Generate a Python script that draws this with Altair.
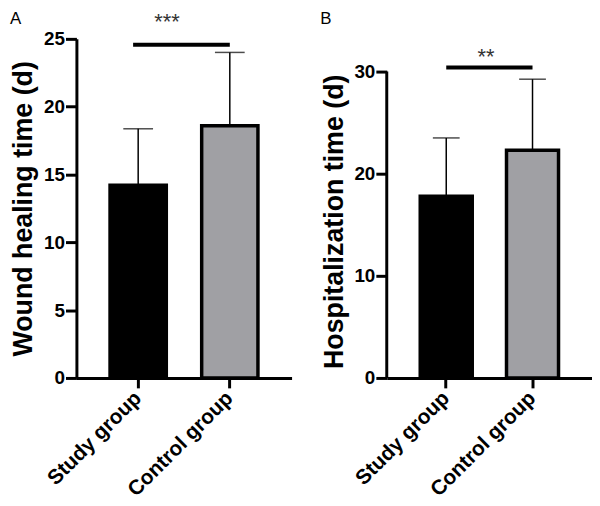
import altair as alt
import pandas as pd

groups = ["Study group", "Control group"]
bar_fills = ["#000000", "#a0a0a4"]

wound_mean = [14.2, 18.6]
wound_sd = [4.17, 5.4]
hosp_mean = [17.8, 22.3]
hosp_sd = [5.7, 6.95]

wound_ticks = [0, 5, 10, 15, 20, 25]
hosp_ticks = [0, 10, 20, 30]

wound_sig_text = ["***"]
hosp_sig_text = ["**"]
wound_sig_y = [24.56]
hosp_sig_y = [30.4]
wound_star_y = [25.7]
hosp_star_y = [30.7]

FONT = "Liberation Sans"


def panel(letter, title, mean, sd, ticks, ymax, width, pad_inner, pad_outer,
          cap, sig_text, sig_y, star_y, star_dx, sig_band_start, title_y,
          axis_rule):
    df = pd.DataFrame({
        "group": groups,
        "mean": mean,
        "upper": [m + s for m, s in zip(mean, sd)],
        "fill": bar_fills,
    })
    xscale = alt.Scale(domain=groups, paddingInner=pad_inner, paddingOuter=pad_outer)
    yscale = alt.Scale(domain=[0, ymax], nice=False, zero=True)
    xaxis = alt.Axis(title=None, labelAngle=-45, labelFont=FONT, labelFontSize=21,
                     labelFontWeight="bold", labelColor="black", labelAlign="right",
                     labelBaseline="middle", labelPadding=7, tickSize=10, tickWidth=3,
                     tickColor="black", domainWidth=3, domainColor="black", grid=False)
    ykw = dict(title=title, values=ticks, titleFont=FONT, titleFontSize=27,
               titleFontWeight="bold", titleColor="black", titlePadding=6,
               labelFont=FONT, labelFontSize=19, labelFontWeight="bold",
               labelColor="black", labelPadding=1, tickSize=11, tickWidth=3,
               tickColor="black", domain=not axis_rule, domainWidth=3,
               domainColor="black", grid=False)
    if title_y is not None:
        ykw["titleY"] = title_y
    yaxis = alt.Axis(**ykw)
    x = alt.X("group:N", scale=xscale, axis=xaxis, sort=groups)
    y = alt.Y("mean:Q", scale=yscale, axis=yaxis)
    base = alt.Chart(df)
    bars = base.mark_bar(stroke="black", strokeWidth=3.5).encode(
        x=x, y=y, fill=alt.Fill("fill:N", scale=None))
    err = base.mark_rule(color="black", strokeWidth=1.5).encode(
        x=x, y=y, y2="upper:Q")
    caps = base.mark_tick(color="black", thickness=1.5, size=cap).encode(
        x=x, y=alt.Y("upper:Q", scale=yscale, axis=yaxis))

    sig_df = pd.DataFrame({"g1": [groups[0]], "g2": [groups[1]], "y": sig_y,
                           "sy": star_y, "t": sig_text})
    sig = alt.Chart(sig_df).mark_rule(color="black", strokeWidth=4).encode(
        x=alt.X("g1:N", scale=xscale, axis=xaxis, bandPosition=sig_band_start),
        x2=alt.X2("g2:N"),
        y=alt.Y("y:Q", scale=yscale, axis=yaxis))
    stars = alt.Chart(sig_df).mark_text(
        font=FONT, fontSize=22, color="#333333", align="center",
        baseline="alphabetic", dx=star_dx).encode(
        x=alt.X("g1:N", scale=xscale, axis=xaxis),
        y=alt.Y("sy:Q", scale=yscale, axis=yaxis),
        text="t:N")
    lab = alt.Chart(pd.DataFrame({"t": [letter]})).mark_text(
        font=FONT, fontSize=17, color="black", align="left",
        baseline="top").encode(
        x=alt.value(-67), y=alt.value(-28), text="t:N")
    layers = [bars, err, caps, sig, stars, lab]
    if axis_rule:
        rdf = pd.DataFrame({"lo": [ticks[0]], "hi": [ticks[-1]]})
        rule = alt.Chart(rdf).mark_rule(color="black", strokeWidth=3).encode(
            x=alt.value(0),
            y=alt.Y("lo:Q", scale=yscale, axis=yaxis),
            y2="hi:Q")
        layers.append(rule)
    return alt.layer(*layers).properties(
        width=width, height=342,
        view=alt.ViewBackground(stroke="transparent", strokeWidth=0))


pA = panel("A", "Wound healing time (d)", wound_mean, wound_sd, wound_ticks, 25,
           217, 0.386, 0.367, 30, wound_sig_text, wound_sig_y, wound_star_y, 29,
           0.41, None, False)
pB = panel("B", "Hospitalization time (d)", hosp_mean, hosp_sd, hosp_ticks, 33.2,
           207, 0.397, 0.388, 27, hosp_sig_text, hosp_sig_y, hosp_star_y, 40,
           0.5, 184, True)

chart = alt.hconcat(pA, pB, spacing=96, bounds="flush").properties(
    padding={"left": 1, "top": 0, "right": 0, "bottom": 0}
).configure_view(strokeWidth=0, stroke="transparent")

chart.save("out.html", embed_options={"renderer": "svg", "actions": False})
